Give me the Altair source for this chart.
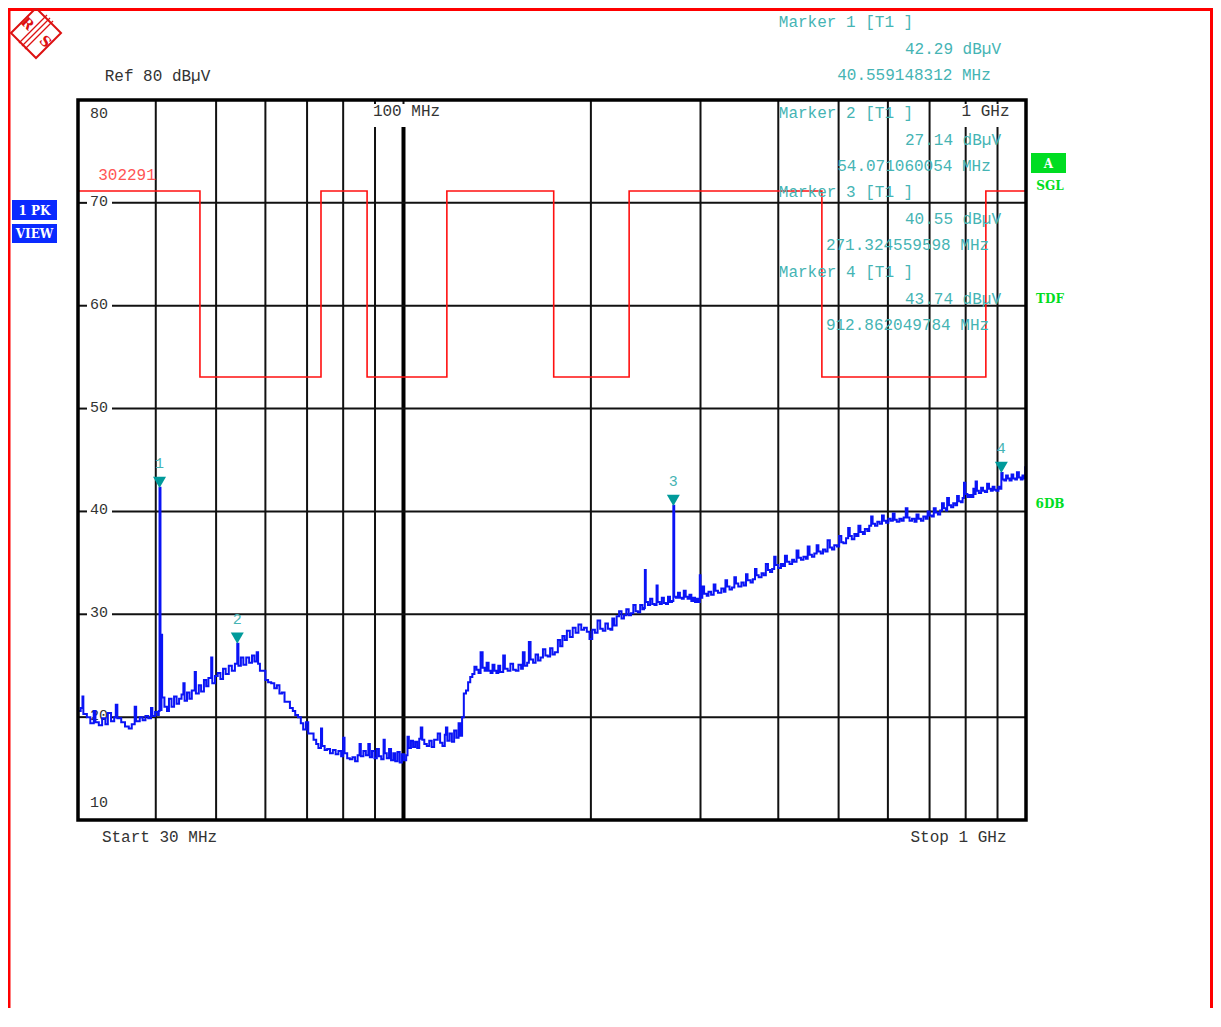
import altair as alt
import pandas as pd

# ---------------- data ----------------
# trace, 30 MHz .. 300 MHz
trace_mhz_low = [
    30.0, 30.3, 30.5, 30.6, 31.0, 31.4, 31.8, 32.0, 32.4, 32.8, 33.2, 33.5, 33.9, 34.3, 34.5, 34.7,
    35.2, 35.7, 36.2, 36.6, 37.0, 37.2, 37.7, 38.1, 38.5, 38.9, 39.3, 39.5, 39.9, 40.3, 40.45,
    40.56, 40.7, 40.85, 40.95, 41.3, 41.7, 42.0, 42.4, 42.8, 43.2, 43.6, 44.0, 44.3, 44.5, 44.9,
    45.3, 45.7, 46.2, 46.4, 46.9, 47.3, 47.8, 48.2, 48.6, 49.1, 49.3, 49.8, 50.3, 50.8, 51.3,
    51.8, 52.4, 53.0, 53.6, 54.07, 54.3, 54.8, 55.3, 55.9, 56.5, 57.1, 57.6, 58.1, 58.4, 58.8,
    59.3, 60.0, 60.6, 61.3, 62.0, 62.6, 63.2, 63.8, 64.4, 65.0, 65.7, 66.4, 67.0, 67.7, 68.4,
    69.0, 69.7, 70.3, 71.0, 71.7, 72.4, 73.0, 73.7, 74.0, 74.7, 75.4, 76.2, 77.0, 77.8, 78.6,
    79.4, 80.0, 80.4, 81.2, 82.0, 82.8, 83.6, 84.4, 85.0, 85.4, 86.2, 87.0, 87.8, 88.3, 89.0,
    89.8, 90.6, 91.3, 92.1, 92.9, 93.3, 94.0, 94.8, 95.5, 96.3, 97.0, 97.8, 98.6, 99.4, 100.2,
    101.0, 101.5, 102.0, 102.8, 103.6, 104.4, 105.2, 106.0, 106.6, 107.2, 108.0, 109.0, 110.0,
    111.0, 112.0, 113.5, 114.5, 115.5, 116.5, 117.0, 117.6, 118.6, 119.6, 120.6, 121.6, 122.6,
    123.4, 124.2, 125.0, 126.0, 127.0, 128.0, 129.0, 130.0, 131.0, 132.0, 133.0, 134.0, 135.0,
    136.0, 137.0, 138.0, 139.0, 140.0, 141.0, 142.0, 143.0, 144.6, 145.5, 147.0, 148.5, 150.0,
    151.5, 153.0, 154.5, 155.5, 156.5, 158.0, 159.0, 160.0, 161.5, 163.0, 164.5, 166.0, 167.5,
    169.0, 170.5, 172.0, 173.5, 175.0, 177.0, 178.5, 180.0, 181.5, 183.0, 185.0, 187.0, 189.0,
    191.0, 193.0, 195.0, 197.0, 199.0, 201.0, 203.0, 205.0, 207.0, 209.0, 211.0, 213.0, 215.0,
    216.5, 218.0, 220.0, 222.0, 224.0, 226.0, 228.0, 230.0, 232.0, 234.0, 236.0, 238.0, 240.0,
    242.0, 243.5, 244.2, 245.0, 247.0, 249.0, 251.0, 253.0, 255.0, 256.0, 258.0, 260.0, 262.0,
    264.0, 266.0, 268.0, 270.0, 271.32, 272.2, 274.0, 276.0, 278.0, 280.0, 282.0, 284.0, 286.0,
    288.0, 290.0, 292.0, 294.0, 296.0, 298.0, 299.2,
]
trace_dbuv_low = [
    20.6, 20.9, 22.0, 20.3, 20.0, 19.4, 20.6, 19.5, 19.2, 19.9, 19.3, 20.4, 19.6, 20.0, 21.2, 19.9,
    19.5, 19.1, 18.9, 19.3, 21.0, 19.6, 20.0, 19.7, 20.1, 19.9, 20.9, 20.1, 20.5, 20.2, 20.6,
    42.29, 20.7, 28.0, 21.9, 21.0, 20.6, 21.8, 21.0, 22.0, 21.3, 21.8, 22.2, 23.3, 21.6, 22.4,
    21.8, 22.6, 24.4, 22.3, 23.1, 22.5, 23.6, 23.0, 23.8, 25.8, 23.3, 24.0, 24.3, 23.7, 24.7,
    24.2, 25.0, 24.5, 25.2, 27.14, 25.0, 25.8, 25.1, 25.8, 25.3, 26.0, 25.4, 26.3, 25.2, 24.5,
    24.5, 23.6, 23.4, 23.3, 22.8, 23.1, 22.3, 22.4, 21.5, 21.5, 20.9, 20.6, 20.2, 20.0, 19.4,
    18.8, 19.5, 18.4, 18.4, 17.8, 17.4, 17.0, 18.9, 17.2, 16.8, 16.9, 16.5, 16.8, 16.4, 16.7,
    16.2, 18.0, 16.5, 16.0, 15.9, 16.1, 15.7, 16.3, 17.4, 16.2, 16.7, 16.3, 17.4, 16.1, 16.7,
    16.0, 16.9, 16.2, 15.9, 17.8, 16.5, 16.0, 16.9, 15.8, 16.5, 15.7, 16.6, 15.6, 16.4, 15.8,
    16.3, 18.1, 17.0, 17.7, 17.1, 17.6, 17.0, 17.9, 19.0, 17.8, 17.4, 17.2, 17.7,
    17.1, 17.8, 18.4, 17.5, 17.2, 18.3, 19.0, 17.7, 18.4, 17.6, 18.7, 18.0, 19.4,
    18.2, 20.0, 22.3, 22.6, 23.4, 23.9, 24.2, 24.9, 24.6, 24.3, 26.3, 24.8, 24.5,
    25.3, 24.5, 24.3, 25.1, 24.5, 24.3, 25.0, 24.4, 26.0, 24.7, 24.5, 25.2, 24.6,
    24.5, 25.1, 24.7, 26.3, 25.0, 25.3, 27.3, 25.6, 25.3, 26.1, 25.5, 25.8, 26.6,
    26.0, 25.9, 26.7, 26.1, 26.3, 27.5, 26.9, 27.9, 27.5, 28.4, 27.8, 28.7, 28.2,
    29.0, 28.5, 28.7, 28.3, 27.6, 28.5, 28.2, 29.4, 28.6, 28.4, 29.1, 28.6, 28.5,
    29.6, 28.9, 29.8, 30.3, 29.6, 29.9, 30.5, 29.9, 30.1, 30.9, 30.3, 30.2, 30.9,
    30.5, 30.6, 34.3, 31.2, 30.9, 31.5, 31.0, 30.9, 32.8, 31.2, 31.0, 31.6, 31.1,
    31.0, 31.7, 31.2, 31.3, 40.55, 31.7, 31.6, 32.1, 31.6, 31.5, 32.3, 31.7, 31.5,
    31.9, 31.3, 31.6, 31.2, 31.5, 31.2, 33.8,
]
# trace, 300 MHz .. 1 GHz, as (MHz, dBuV) readings
trace_high = [
    (300, 31.6), (302, 32.7), (304, 32.0), (307, 31.8), (309, 32.2), (312, 31.9), (315, 32.9),
    (317, 32.3), (320, 32.1), (324, 32.5), (327, 32.2), (329, 33.3), (331, 32.7), (334, 32.4),
    (337, 32.6), (340, 33.6), (342, 33.0), (345, 32.7), (349, 33.1), (352, 32.8), (355, 33.9),
    (357, 33.3), (361, 33.1), (364, 33.4), (367, 34.4), (369, 33.8), (372, 33.6), (376, 34.0),
    (379, 33.8), (382, 34.9), (385, 34.3), (388, 34.1), (391, 34.4), (394, 35.6), (396, 34.8),
    (400, 34.5), (404, 34.9), (407, 34.7), (410, 35.7), (413, 35.1), (417, 34.9), (421, 35.3),
    (424, 35.1), (428, 36.2), (431, 35.5), (435, 35.3), (439, 35.6), (443, 35.4), (446, 36.6),
    (449, 35.8), (453, 35.6), (457, 35.9), (461, 36.7), (464, 36.1), (468, 35.9), (472, 36.3),
    (476, 36.1), (480, 37.2), (484, 36.5), (488, 36.3), (492, 36.7), (497, 36.6), (501, 37.6),
    (505, 37.0), (509, 36.9), (514, 37.4), (518, 38.4), (521, 37.6), (525, 37.3), (530, 37.8),
    (534, 37.6), (538, 38.6), (542, 38.0), (547, 37.8), (551, 38.3), (556, 38.1), (560, 38.6),
    (564, 39.5), (567, 38.8), (572, 38.6), (577, 39.0), (582, 38.8), (587, 39.6), (591, 39.1),
    (596, 38.9), (601, 39.3), (606, 39.1), (611, 39.8), (615, 39.2), (620, 39.0), (626, 39.3),
    (631, 39.1), (636, 39.4), (641, 40.3), (645, 39.4), (650, 39.1), (656, 39.3), (662, 39.0),
    (667, 39.7), (672, 39.3), (678, 39.1), (684, 39.5), (690, 39.3), (695, 40.0), (700, 39.6),
    (706, 39.5), (711, 40.3), (716, 39.9), (722, 39.7), (728, 40.1), (733, 40.8), (738, 40.3),
    (744, 40.1), (747, 41.3), (752, 40.6), (758, 40.4), (764, 40.8), (770, 40.6), (775, 41.5),
    (780, 41.0), (786, 40.9), (791, 41.3), (795, 42.8), (799, 41.7), (805, 41.4), (811, 41.6),
    (817, 41.4), (823, 42.2), (828, 41.7), (830, 42.9), (834, 42.0), (840, 41.8), (847, 42.3),
    (853, 42.0), (859, 41.9), (866, 42.7), (872, 42.2), (878, 42.0), (884, 42.4), (890, 42.1),
    (896, 42.0), (903, 42.4), (909, 42.2), (912.86, 43.74), (917, 43.1), (923, 43.0), (929, 43.5),
    (935, 43.2), (941, 43.0), (948, 43.6), (954, 43.2), (961, 43.1), (967, 43.8), (974, 43.3),
    (981, 43.1), (987, 43.5), (994, 43.2), (997, 44.3), (1000, 43.5),
]

limit_mhz = [30, 47.1, 73.7, 87.4, 117.4, 174.3, 230.4, 470, 862, 1000]
limit_dbuv = [71.15, 53.07, 71.15, 53.07, 71.15, 53.07, 71.15, 53.07, 71.15, 71.15]

marker_id = ["1", "2", "3", "4"]
marker_mhz = [40.559148312, 54.071060054, 271.324559598, 912.862049784]
marker_dbuv = [42.29, 27.14, 40.55, 43.74]

grid_mhz_full = [40, 50, 60, 70, 80, 200, 300, 400, 500, 600, 700]
grid_mhz_cut = [90, 800, 900]
grid_mhz_bold = [100]
grid_dbuv = [20, 30, 40, 50, 60, 70]
ytick_mid = [20, 30, 40, 50, 60, 70]
ytick_top = [80]
ytick_bottom = [10]

# ---------------- chart ----------------
W, H = 948, 720
MONO = "Liberation Mono"
TEAL_TXT = "#45B4B4"
TEAL_MK = "#009A9A"
GREEN = "#00DD22"
BLUE_BOX = "#0A2AFF"
RED = "#FF0000"
LOGO = "#DD1111"

xs = alt.Scale(type="log", domain=[30, 1000], nice=False)
ys = alt.Scale(domain=[10, 80], nice=False, zero=False)

trace = pd.DataFrame({
    "f": trace_mhz_low + [p[0] for p in trace_high],
    "db": trace_dbuv_low + [p[1] for p in trace_high],
})
limit = pd.DataFrame({"f": limit_mhz, "db": limit_dbuv})
markers = pd.DataFrame({"f": marker_mhz, "db": marker_dbuv, "id": marker_id})
one = pd.DataFrame({"k": [0]})

X = alt.X("f:Q", scale=xs, axis=None)
Y = alt.Y("db:Q", scale=ys, axis=None)

layers = []

# vertical grid
layers.append(alt.Chart(pd.DataFrame({"f": grid_mhz_full})).mark_rule(color="#111", strokeWidth=2).encode(x=X))
layers.append(alt.Chart(pd.DataFrame({"f": grid_mhz_cut})).mark_rule(color="#111", strokeWidth=2).encode(
    x=X, y=alt.value(27), y2=alt.value(H)))
layers.append(alt.Chart(pd.DataFrame({"f": grid_mhz_cut + grid_mhz_bold})).mark_rule(color="#111", strokeWidth=2).encode(
    x=X, y=alt.value(0), y2=alt.value(4)))
layers.append(alt.Chart(pd.DataFrame({"f": grid_mhz_bold})).mark_rule(color="#000", strokeWidth=4).encode(
    x=X, y=alt.value(27), y2=alt.value(H)))

# horizontal grid (gap for the in-plot labels)
gdf = pd.DataFrame({"db": grid_dbuv})
layers.append(alt.Chart(gdf).mark_rule(color="#111", strokeWidth=2).encode(y=Y, x=alt.value(0), x2=alt.value(9)))
layers.append(alt.Chart(gdf).mark_rule(color="#111", strokeWidth=2).encode(y=Y, x=alt.value(34), x2=alt.value(W)))

# y labels inside the plot
def ylab(vals, dy):
    return alt.Chart(pd.DataFrame({"db": vals})).mark_text(
        font=MONO, fontSize=15, color="#333", align="center", baseline="middle", dy=dy
    ).encode(y=Y, x=alt.value(21), text=alt.Text("db:Q"))

layers += [ylab(ytick_mid, -2), ylab(ytick_top, 13), ylab(ytick_bottom, -18)]

# limit line and label
layers.append(alt.Chart(limit).mark_line(color="#FF1010", strokeWidth=1.6, interpolate="step-after").encode(x=X, y=Y))

def txt(s, x, y, color="#333", size=16, align="center", weight="normal", font=MONO, angle=0):
    return alt.Chart(one).mark_text(
        text=s, font=font, fontSize=size, color=color, align=align, baseline="middle",
        fontWeight=weight, angle=angle
    ).encode(x=alt.value(x), y=alt.value(y))

layers.append(txt("302291", 49, 75, color="#FF5555"))

# trace
layers.append(alt.Chart(trace).mark_line(color="#0A14F5", strokeWidth=2, interpolate="step-after").encode(x=X, y=Y))

# markers
layers.append(alt.Chart(markers).mark_point(shape="triangle-down", filled=True, size=169, opacity=1,
                                            color=TEAL_MK, yOffset=-5.5).encode(x=X, y=Y))
layers.append(alt.Chart(markers).mark_text(font=MONO, fontSize=15, color=TEAL_TXT, dy=-25).encode(
    x=X, y=Y, text="id:N"))

# frame
layers.append(alt.Chart(one).mark_rect(fillOpacity=0, stroke="#000", strokeWidth=3.5).encode(
    x=alt.value(0), x2=alt.value(W), y=alt.value(0), y2=alt.value(H)))

# in-plot frequency labels
layers.append(txt("100 MHz", 328.5, 11))
layers.append(txt("1 GHz", 907.5, 11))

# marker readouts
mk_y = [-78, 13, 92, 172]
for i in range(4):
    y0 = mk_y[i]
    layers.append(txt(f"Marker {marker_id[i]} [T1 ]", 768, y0, color=TEAL_TXT))
    layers.append(txt(f"{marker_dbuv[i]:.2f} dB\u00b5V", 875, y0 + 27, color=TEAL_TXT))
    fstr = f"{marker_mhz[i]:.9f} MHz"
    cx = 940 - len(fstr) * 13 / 2
    layers.append(txt(fstr, cx, y0 + 53, color=TEAL_TXT))

# outside texts
layers.append(txt("Ref 80 dB\u00b5V", 79.5, -24))
layers.append(txt("Start 30 MHz", 81.5, 737))
layers.append(txt("Stop 1 GHz", 880.5, 737))

# side boxes
def box(x1, x2, y1, y2, color):
    return alt.Chart(one).mark_rect(color=color).encode(
        x=alt.value(x1), x2=alt.value(x2), y=alt.value(y1), y2=alt.value(y2))

layers.append(box(-66, -21, 100, 120, BLUE_BOX))
layers.append(box(-66, -21, 124, 143, BLUE_BOX))
layers.append(txt("1 PK", -43.5, 110.5, color="white", size=12, weight="bold", font="DejaVu Serif"))
layers.append(txt("VIEW", -43.5, 134, color="white", size=12, weight="bold", font="DejaVu Serif"))

layers.append(box(953, 988, 53, 73, GREEN))
layers.append(txt("A", 970.5, 63.5, color="white", size=12, weight="bold", font="DejaVu Serif"))
layers.append(txt("SGL", 972, 86, color=GREEN, size=12, weight="bold", font="DejaVu Serif"))
layers.append(txt("TDF", 972, 199, color=GREEN, size=12, weight="bold", font="DejaVu Serif"))
layers.append(txt("6DB", 972, 404, color=GREEN, size=12, weight="bold", font="DejaVu Serif"))

# red page border
layers.append(alt.Chart(one).mark_rule(color=RED, strokeWidth=3).encode(
    x=alt.value(-69), y=alt.value(-92), y2=alt.value(908)))
layers.append(alt.Chart(one).mark_rule(color=RED, strokeWidth=3).encode(
    x=alt.value(-70), x2=alt.value(1135), y=alt.value(-90.5)))
layers.append(alt.Chart(one).mark_rule(color=RED, strokeWidth=3).encode(
    x=alt.value(1133.5), y=alt.value(-92), y2=alt.value(908)))

# R&S logo (diamond, slash band, letters)
layers.append(alt.Chart(one).mark_point(shape="diamond", size=2500, filled=False, color=LOGO,
                                        strokeWidth=2, opacity=1).encode(x=alt.value(-42), y=alt.value(-67)))
for d in (-3, 0, 3):
    layers.append(alt.Chart(one).mark_rule(color=LOGO, strokeWidth=1.2).encode(
        x=alt.value(-28 + d), y=alt.value(-82 + d), x2=alt.value(-56 + d), y2=alt.value(-54 + d)))
layers.append(txt("R", -51, -76, color=LOGO, size=14, weight="bold", font="DejaVu Serif", angle=45))
layers.append(txt("S", -33, -58, color=LOGO, size=14, weight="bold", font="DejaVu Serif", angle=45))

chart = alt.layer(*layers).properties(
    width=W, height=H,
    autosize=alt.AutoSizeParams(type="none"),
    padding={"left": 70, "top": 92, "right": 187, "bottom": 188},
    background="white",
).configure_view(stroke=None)

chart.save("out.html", embed_options={"renderer": "svg", "actions": False})
